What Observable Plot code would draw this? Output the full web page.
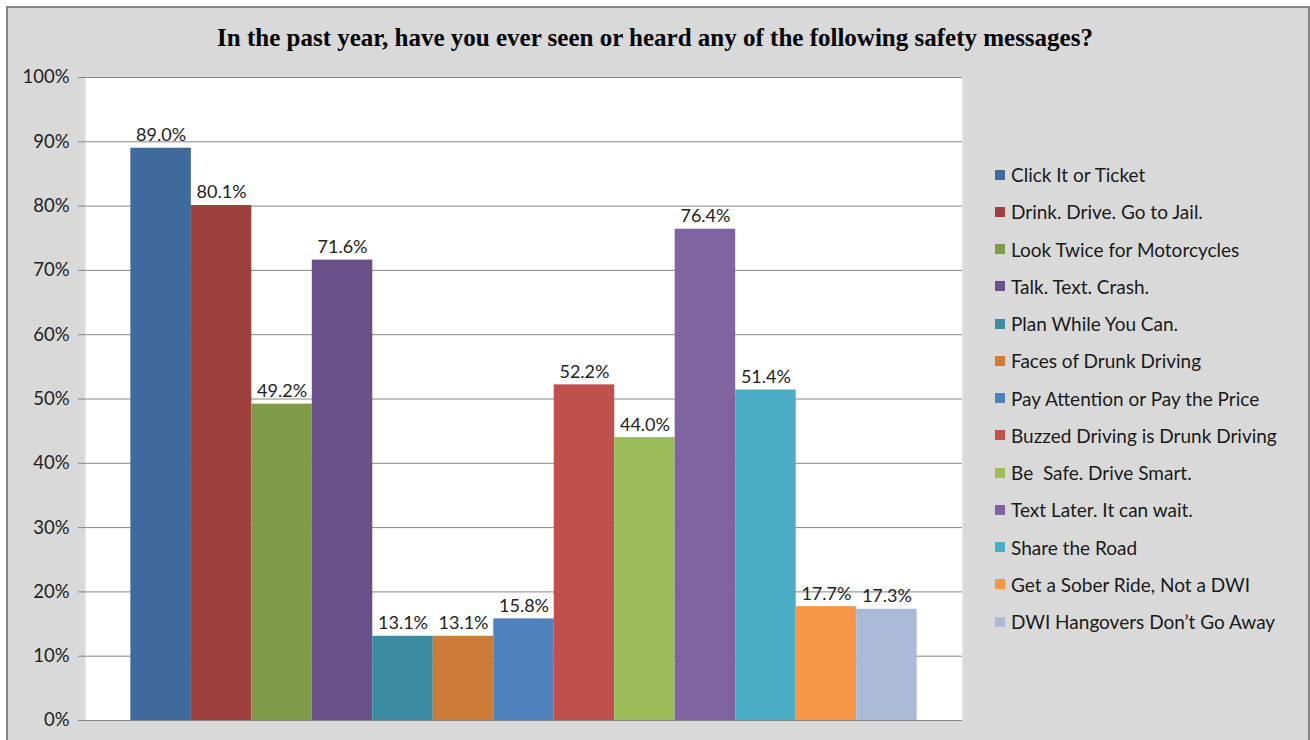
<!DOCTYPE html>
<html><head><meta charset="utf-8">
<script src="https://cdn.jsdelivr.net/npm/d3@7"></script>
<script src="https://cdn.jsdelivr.net/npm/@observablehq/plot@0.6"></script>
<style>
html,body{margin:0;padding:0;background:#fff;}
body{width:1310px;height:740px;overflow:hidden;position:relative;font-family:Lato,"Open Sans",sans-serif;}
#frame{position:absolute;left:6px;top:6px;width:1304px;height:760px;background:#d9d9d9;border:2px solid #868686;box-sizing:border-box;}
#title{position:absolute;left:0;top:24px;width:1310px;text-align:center;font:bold 25px "Liberation Serif","Times New Roman",serif;color:#000;}
#chart{position:absolute;left:0;top:0;}
#legend{position:absolute;left:995px;top:156px;}
.item{height:37.25px;display:flex;align-items:center;font-size:19px;color:#1a1a1a;white-space:pre;}
.sw{width:10px;height:10px;margin-right:6px;flex:none;}
</style>
</head><body>
<div id="frame"></div>
<div id="title">In the past year, have you ever seen or heard any of the following safety messages?</div>
<div id="chart"></div>
<div id="legend"></div>
<script>
const messages = ["Click It or Ticket","Drink. Drive. Go to Jail.","Look Twice for Motorcycles","Talk. Text. Crash.","Plan While You Can.","Faces of Drunk Driving","Pay Attention or Pay the Price","Buzzed Driving is Drunk Driving","Be  Safe. Drive Smart.","Text Later. It can wait.","Share the Road","Get a Sober Ride, Not a DWI","DWI Hangovers Don\u2019t Go Away"];
const percents = [89.0,80.1,49.2,71.6,13.1,13.1,15.8,52.2,44.0,76.4,51.4,17.7,17.3];
const colors = ["#3f6a9b","#9e413e","#7f9a48","#69518a","#3b8ca2","#cc7b38","#4f81bd","#c0504d","#9bbb59","#8064a2","#4bacc6","#f79646","#aabad7"];
const yTicks = [0,10,20,30,40,50,60,70,80,90,100];

const data = messages.map((m,i)=>({m, v: percents[i]/100, label: percents[i].toFixed(1) + "%"}));

const chart = Plot.plot({
  width: 1310, height: 740,
  marginLeft: 85, marginRight: 348, marginTop: 77, marginBottom: 20,
  style: {background: "transparent", fontFamily: "Lato, 'Open Sans', sans-serif"},
  x: {domain: messages, paddingInner: 0, paddingOuter: 0.75, round: false, axis: null},
  y: {domain: [0,1]},
  color: {domain: messages, range: colors},
  marks: [
    Plot.frame({fill: "#fff", stroke: null}),
    Plot.ruleY(yTicks.map(t=>t/100), {stroke: "#868686", strokeWidth: 1, strokeOpacity: 1}),
    Plot.ruleX([0], {frameAnchor: "left", stroke: "#868686"}),
    Plot.axisY(yTicks.map(t=>t/100), {tickFormat: d => Math.round(d*100) + "%", tickSize: 7, tickPadding: 9, fontSize: 18.5, stroke: "#868686", fill: "#222", label: null}),
    Plot.barY(data, {x: "m", y: "v", fill: "m"}),
    Plot.text(data, {x: "m", y: "v", text: "label", lineAnchor: "bottom", dy: -7, fontSize: 18, fill: "#222"})
  ]
});
document.getElementById("chart").appendChild(chart);

const leg = document.getElementById("legend");
messages.forEach((m,i)=>{
  const d = document.createElement("div"); d.className="item";
  const s = document.createElement("span"); s.className="sw"; s.style.background=colors[i];
  const t = document.createElement("span"); t.textContent=m;
  d.appendChild(s); d.appendChild(t); leg.appendChild(d);
});
</script>
</body></html>
